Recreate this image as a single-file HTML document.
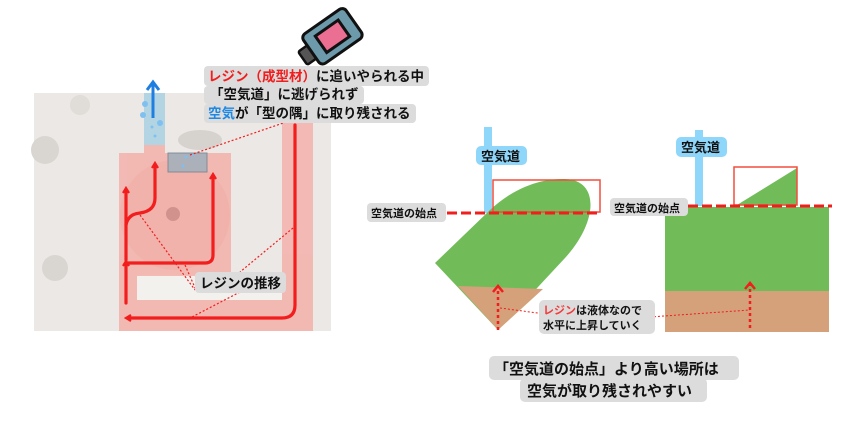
<!DOCTYPE html>
<html><head><meta charset="utf-8"><style>
body{margin:0;background:#fff;width:847px;height:421px;overflow:hidden}
svg{display:block}
text{font-family:"Liberation Sans","Noto Sans CJK JP",sans-serif;font-weight:bold}
</style></head><body>
<svg width="847" height="421" viewBox="0 0 847 421">
<defs>
<marker id="ah" markerWidth="8" markerHeight="8" refX="4" refY="4" orient="auto" markerUnits="userSpaceOnUse" viewBox="0 0 8 8"><path d="M1,1 L6,4 L1,7" fill="none" stroke="#f21d1d" stroke-width="2.2"/></marker>
</defs>
<!-- photo -->
<rect x="34" y="93" width="297" height="238" fill="#ebe8e5"/>
<circle cx="45" cy="150" r="14" fill="#d9d5d1"/>
<circle cx="55" cy="268" r="13" fill="#d9d5d1"/>
<circle cx="80" cy="105" r="10" fill="#e0dcd8"/>
<ellipse cx="200" cy="140" rx="22" ry="10" fill="#d6d2ce"/>
<rect x="137" y="275" width="145" height="25" fill="#f3f1ee"/>
<!-- pink regions -->
<g fill="#f5aaa3" opacity="0.75">
<rect x="144" y="145" width="21" height="18"/>
<rect x="119" y="153" width="112" height="123"/>
<rect x="119" y="276" width="18" height="55"/>
<rect x="282" y="120" width="31" height="211"/>
<rect x="119" y="300" width="194" height="31"/>
</g>
<ellipse cx="175" cy="215" rx="55" ry="55" fill="#f0a8a2" opacity="0.4"/>
<circle cx="173" cy="214" r="7" fill="#c98a86" opacity="0.8"/>
<rect x="144" y="93" width="21" height="52" fill="#b3d5e3"/>
<rect x="168" y="153" width="39" height="19" fill="#9ab0bd" stroke="#6b7f8c" stroke-width="1" opacity="0.8"/>
<g fill="#7fc0f0"><circle cx="145" cy="104" r="3"/><circle cx="143" cy="115" r="3"/><circle cx="160" cy="123" r="3"/><circle cx="152" cy="127" r="1.5"/><circle cx="155" cy="136" r="1.5"/><circle cx="186" cy="157" r="1.5"/><circle cx="192" cy="155" r="1.5"/><circle cx="183" cy="166" r="1.5"/></g>
<line x1="153" y1="118" x2="153" y2="84" stroke="#1e7fe0" stroke-width="3"/>
<path d="M147,90 L153,82 L159,90" fill="none" stroke="#1e7fe0" stroke-width="3"/>
<!-- red resin arrows -->
<g fill="none" stroke="#f21d1d" stroke-width="3.2" stroke-linecap="round">
<path d="M295,125 L295,305 Q295,318 282,318 L128,318" marker-end="url(#ah)"/>
<path d="M126,303 L126,263" marker-end="url(#ah)"/>
<path d="M126,263 L205,263 Q213,263 213,255 L213,176" marker-end="url(#ah)"/>
<path d="M126,260 L126,190" marker-end="url(#ah)"/>
<path d="M126,225 Q128,214 140,213 Q155,211 155,198 L155,165" marker-end="url(#ah)"/>
</g>
<g fill="none" stroke="#f21d1d" stroke-width="1.2" stroke-dasharray="2,2">
<line x1="190" y1="155" x2="292" y2="120"/>
<line x1="140" y1="215" x2="195" y2="290"/>
<line x1="185" y1="265" x2="196" y2="290"/>
<line x1="293" y1="228" x2="240" y2="272"/>
<line x1="240" y1="292" x2="190" y2="318"/>
</g>
<rect x="195" y="272" width="91" height="21" rx="4" fill="#dcdcdc"/>
<text x="200" y="288" font-size="13.5" fill="#111">レジンの推移</text>
<!-- camera -->
<g transform="translate(330,38) rotate(-35)">
<rect x="-34" y="-7" width="12" height="16" fill="#555" stroke="#111" stroke-width="2.5" rx="2"/>
<rect x="-23" y="-18" width="52" height="36" rx="5" fill="#6c9aab" stroke="#111" stroke-width="3"/>
<rect x="-11" y="-10" width="28" height="20" fill="#eb6f92" stroke="#111" stroke-width="3"/>
</g>
<!-- callout -->
<rect x="204" y="66" width="225" height="20" rx="4" fill="#dcdcdc"/>
<rect x="204" y="86" width="160" height="18" rx="4" fill="#dcdcdc"/>
<rect x="204" y="104" width="212" height="19" rx="4" fill="#dcdcdc"/>
<text x="208" y="81" font-size="13.5" fill="#111"><tspan fill="#f21d1d">レジン（成型材）</tspan>に追いやられる中</text>
<text x="210" y="99" font-size="13.5" fill="#111">「空気道」に逃げられず</text>
<text x="208" y="118" font-size="13.5" fill="#111"><tspan fill="#1e88e5">空気</tspan>が「型の隅」に取り残される</text>
<!-- left diagram -->
<rect x="484" y="127" width="8" height="86" fill="#8fd6fb"/>
<path d="M435,263 L498,330 L565,258 C598,222 600,180 565,179 C535,178 508,193 490,210 Z" fill="#71bc58"/>
<path d="M458,286 L543,289 L498,330 Z" fill="#d4a17b"/>
<rect x="493" y="180" width="107" height="32" fill="none" stroke="#f24d3d" stroke-width="1.5"/>
<line x1="447" y1="213" x2="600" y2="213" stroke="#f21d1d" stroke-width="3" stroke-dasharray="10,4"/>
<rect x="476" y="146" width="51" height="19" rx="5" fill="#8fd6fb"/>
<text x="481" y="161" font-size="13" fill="#111">空気道</text>
<rect x="367" y="203" width="79" height="19" rx="4" fill="#dcdcdc"/>
<text x="371" y="217" font-size="11" fill="#111">空気道の始点</text>
<!-- right diagram -->
<rect x="695" y="130" width="8" height="76" fill="#8fd6fb"/>
<rect x="665" y="207" width="164" height="84" fill="#71bc58"/>
<rect x="665" y="291" width="164" height="41" fill="#d4a17b"/>
<path d="M737,205 L797,168 L797,205 Z" fill="#71bc58"/>
<rect x="734" y="167" width="63" height="38" fill="none" stroke="#f24d3d" stroke-width="1.5"/>
<line x1="688" y1="206" x2="832" y2="206" stroke="#f21d1d" stroke-width="3" stroke-dasharray="10,4"/>
<rect x="676" y="137" width="51" height="20" rx="5" fill="#8fd6fb"/>
<text x="681" y="152" font-size="13" fill="#111">空気道</text>
<rect x="610" y="198" width="78" height="18" rx="4" fill="#dcdcdc"/>
<text x="614" y="212" font-size="11" fill="#111">空気道の始点</text>
<!-- dotted arrows -->
<g stroke="#f21d1d" fill="none">
<line x1="498" y1="330" x2="498" y2="288" stroke-width="2.5" stroke-dasharray="3,3"/>
<path d="M493,292 L498,286 L503,292" stroke-width="2.5"/>
<line x1="750" y1="328" x2="750" y2="285" stroke-width="2.5" stroke-dasharray="3,3"/>
<path d="M745,289 L750,283 L755,289" stroke-width="2.5"/>
<line x1="500" y1="308" x2="545" y2="314" stroke-width="1" stroke-dasharray="2,2"/>
<line x1="650" y1="317" x2="750" y2="310" stroke-width="1" stroke-dasharray="2,2"/>
</g>
<rect x="539" y="300" width="116" height="34" rx="5" fill="#dcdcdc"/>
<text x="543" y="314" font-size="11" fill="#111"><tspan fill="#f23b3b">レジン</tspan>は液体なので</text>
<text x="543" y="329" font-size="11" fill="#111">水平に上昇していく</text>
<!-- bottom label -->
<rect x="489" y="356" width="250" height="24" rx="5" fill="#dcdcdc"/>
<rect x="520" y="378" width="187" height="24" rx="5" fill="#dcdcdc"/>
<text x="494" y="374" font-size="15" fill="#111">「空気道の始点」より高い場所は</text>
<text x="527" y="396" font-size="15" fill="#111">空気が取り残されやすい</text>
</svg>
</body></html>
